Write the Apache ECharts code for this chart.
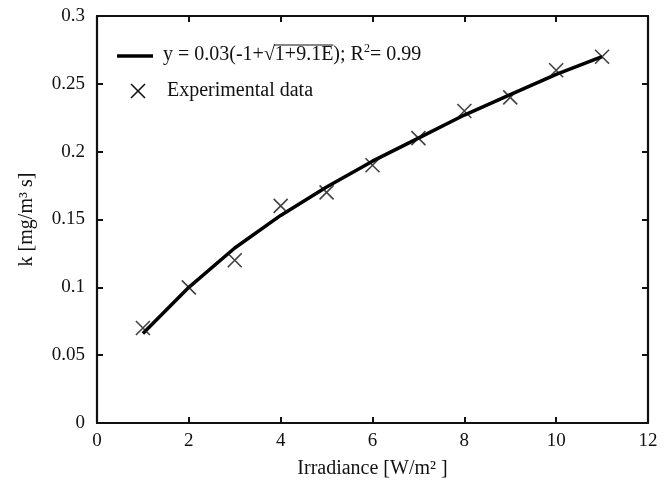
<!DOCTYPE html>
<html><head><meta charset="utf-8">
<script src="https://cdn.jsdelivr.net/npm/echarts@6/dist/echarts.min.js"></script>
<style>html,body{margin:0;padding:0;background:#fff}#c{width:671px;height:487px}</style>
</head><body><div id="c"></div>
<script>
const irradiance = [1, 2, 3, 4, 5, 6, 7, 8, 9, 10, 11];
const experimental = [0.07, 0.10, 0.12, 0.16, 0.17, 0.19, 0.21, 0.23, 0.24, 0.26, 0.27];
const fitted = [0.066, 0.100, 0.129, 0.153, 0.174, 0.193, 0.210, 0.227, 0.242, 0.257, 0.270];
const fitLabelPre = 'y = 0.03(-1+√';
const fitLabelRoot = '1+9.1E';
const fitLabelPost = '); R';
const fitLabelEnd = '= 0.99';
const expName = 'Experimental data';
const xName = 'Irradiance [W/m² ]';
const yName = 'k [mg/m³ s]';

const F = 'Liberation Serif';
const LF = 20;
const chart = echarts.init(document.getElementById('c'));
function common(extra) {
  return Object.assign({
    axisLine: {show: true, onZero: false, lineStyle: {color: '#111', width: 2.2}},
    axisTick: {show: true, inside: true, length: 6, lineStyle: {color: '#111', width: 2}},
    splitLine: {show: false}
  }, extra);
}
// measure for overline on sqrt
const cv = document.createElement('canvas').getContext('2d');
cv.font = LF + 'px "' + F + '"';
const lx = 163, ly = 55;
const wPre = cv.measureText(fitLabelPre).width;
const wRoot = cv.measureText(fitLabelRoot).width;

chart.setOption({
  animation: false,
  grid: {left: 97, right: 23, top: 16, bottom: 64},
  xAxis: [
    common({type: 'value', min: 0, max: 12, interval: 2, position: 'bottom',
      name: xName, nameLocation: 'middle', nameGap: 36,
      nameTextStyle: {fontFamily: F, fontSize: 20, color: '#111'},
      axisLabel: {fontFamily: F, fontSize: 19, color: '#111', margin: 9}}),
    common({type: 'value', min: 0, max: 12, interval: 2, position: 'top',
      axisLabel: {show: false}})
  ],
  yAxis: [
    common({type: 'value', min: 0, max: 0.3, interval: 0.05, position: 'left',
      name: yName, nameLocation: 'middle', nameGap: 60,
      nameTextStyle: {fontFamily: F, fontSize: 20, color: '#111'},
      axisLabel: {fontFamily: F, fontSize: 19, color: '#111', margin: 12}}),
    common({type: 'value', min: 0, max: 0.3, interval: 0.05, position: 'right',
      axisLabel: {show: false}})
  ],
  graphic: [
    {type: 'line', shape: {x1: 117, y1: 56, x2: 153, y2: 56}, style: {stroke: '#000', lineWidth: 3.5}},
    {type: 'line', shape: {x1: 131, y1: 84, x2: 145, y2: 98}, style: {stroke: '#111', lineWidth: 1.6}},
    {type: 'line', shape: {x1: 145, y1: 84, x2: 131, y2: 98}, style: {stroke: '#111', lineWidth: 1.6}},
    {type: 'text', x: lx, y: ly, style: {
      text: '{a|' + fitLabelPre + fitLabelRoot + fitLabelPost + '}{s|2}{a|' + fitLabelEnd + '}',
      verticalAlign: 'middle', fill: '#111',
      rich: {
        a: {fontFamily: F, fontSize: LF, fill: '#111', lineHeight: 24},
        s: {fontFamily: F, fontSize: 12, fill: '#111', verticalAlign: 'top', lineHeight: 24}
      }}},
    {type: 'line', shape: {x1: lx + wPre - 1, y1: ly - 10, x2: lx + wPre + wRoot, y2: ly - 10}, style: {stroke: '#111', lineWidth: 1.2}},
    {type: 'text', x: 167, y: 91, style: {text: expName, fontFamily: F, fontSize: LF, fill: '#111', verticalAlign: 'middle'}}
  ],
  series: [
    {name: 'fit', type: 'line', data: irradiance.map((x, i) => [x, fitted[i]]),
      symbol: 'none', lineStyle: {color: '#000', width: 3.5}, itemStyle: {color: '#000'}, z: 2},
    {name: expName, type: 'scatter', data: irradiance.map((x, i) => [x, experimental[i]]),
      symbol: 'path://M0,0L10,10M10,0L0,10', symbolSize: 14,
      itemStyle: {color: 'none', borderColor: '#111', borderWidth: 1.6}, z: 3}
  ]
});
</script></body></html>
